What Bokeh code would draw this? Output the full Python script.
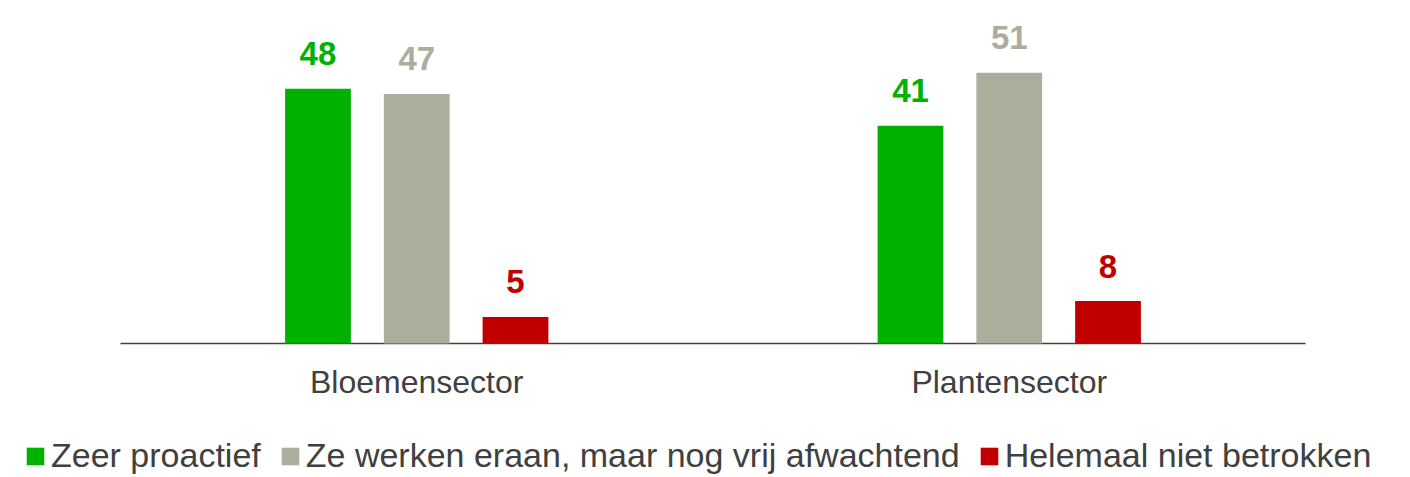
from bokeh.plotting import figure
from bokeh.models import ColumnDataSource, Range1d, Legend, LegendItem
from bokeh.core.properties import value
from bokeh.embed import file_html
from bokeh.resources import INLINE

categories = ["Bloemensector", "Plantensector"]
series_names = ["Zeer proactief", "Ze werken eraan, maar nog vrij afwachtend", "Helemaal niet betrokken"]
zeer_proactief = [48, 41]
afwachtend = [47, 51]
niet_betrokken = [5, 8]

colors = ["#00B200", "#ADAD9E", "#C00000"]
offsets = [-0.1667, 0.0, 0.1667]
series_values = [zeer_proactief, afwachtend, niet_betrokken]

FONT = "Liberation Sans"
TEXT_COLOR = "#404040"

idx = list(range(len(categories)))

p = figure(
    x_range=Range1d(-0.7025, len(categories) - 0.5 + 0.1772),
    y_range=Range1d(-25.24, 64.6),
    width=1410, height=477,
    output_backend="svg", toolbar_location=None,
    min_border_left=0, min_border_right=0, min_border_top=0, min_border_bottom=0,
)
p.outline_line_color = None
p.xgrid.visible = False
p.ygrid.visible = False
p.xaxis.visible = False
p.yaxis.visible = False

# baseline (category axis line)
p.segment(x0=[idx[0] - 0.5], x1=[idx[-1] + 0.5], y0=[0], y1=[0],
          line_color=TEXT_COLOR, line_width=1.3)

# category labels
cat_src = ColumnDataSource(dict(x=idx, y=[0] * len(idx), t=categories))
p.text(x="x", y="y", text="t", source=cat_src, text_align="center",
       text_baseline="alphabetic", y_offset=39,
       text_font=value(FONT), text_font_size="32px", text_color=TEXT_COLOR)

items = []
for name, vals, col, off in zip(series_names, series_values, colors, offsets):
    src = ColumnDataSource(dict(x=[i + off for i in idx], val=vals, lbl=[str(v) for v in vals]))
    r = p.vbar(x="x", top="val", width=0.111, bottom=0,
               source=src, fill_color=col, line_color=None)
    p.text(x="x", y="val", text="lbl", source=src,
           text_align="center", text_baseline="alphabetic", y_offset=-35,
           text_font=value(FONT), text_font_size="33px", text_font_style="bold",
           text_color=col)
    items.append(LegendItem(label=name, renderers=[r]))

legend = Legend(
    items=items, orientation="horizontal", location=(24, 2),
    padding=0, margin=0, spacing=18, label_standoff=5,
    glyph_width=22, glyph_height=22,
    label_text_font=FONT, label_text_font_size="34px", label_text_color=TEXT_COLOR,
    border_line_color=None, background_fill_alpha=0,
)
p.add_layout(legend, "center")

open("out.html", "w").write(file_html(p, INLINE))
